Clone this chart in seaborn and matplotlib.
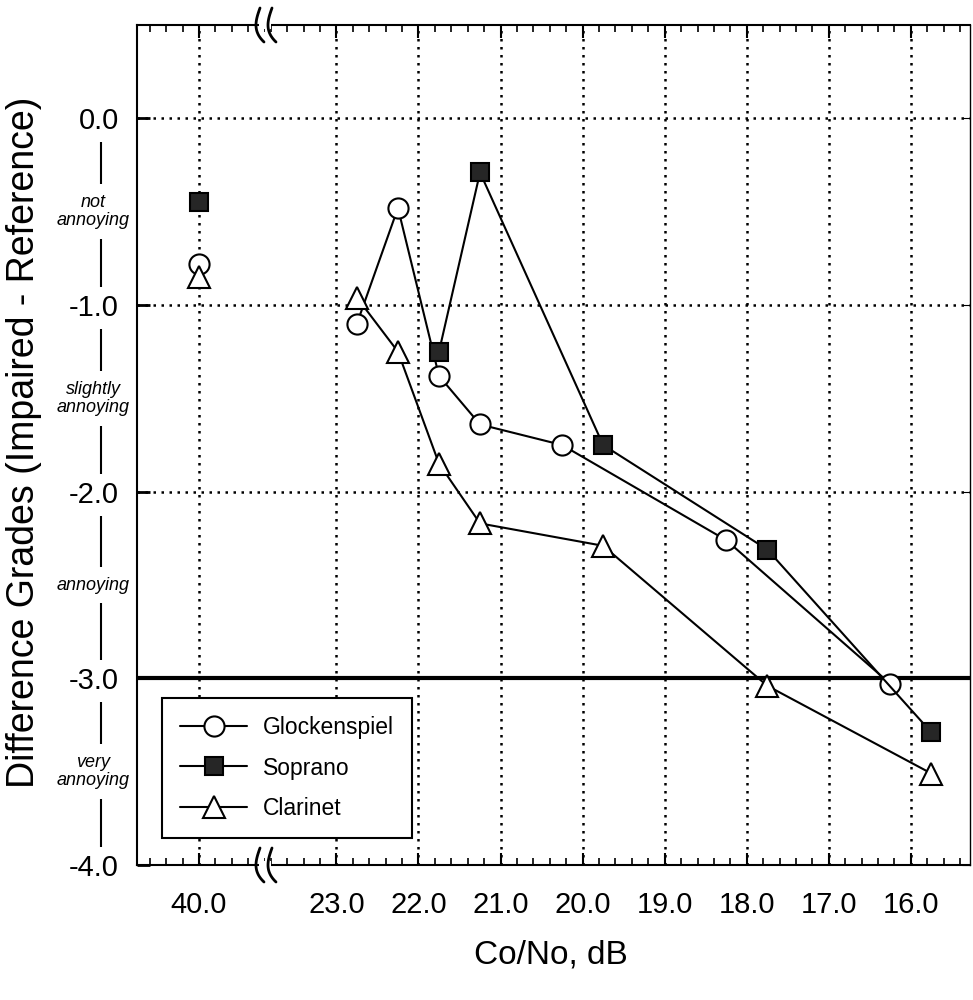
"""
Difference grades vs Co/No for three test items (broken x axis).
"""

import matplotlib

matplotlib.use("Agg")

import matplotlib.pyplot as plt
import numpy as np
import seaborn as sns
from matplotlib.lines import Line2D
from matplotlib.patches import Rectangle
from matplotlib.ticker import FixedLocator, FormatStrFormatter, MultipleLocator

# =============================================================================
# DATA
# =============================================================================

# clear channel reference point (left panel)
ref_cono = [40.0]
glock_ref = [-0.78]
soprano_ref = [-0.45]
clarinet_ref = [-0.85]

# impaired channel (right panel)
glock_cono = [22.75, 22.25, 21.75, 21.25, 20.25, 18.25, 16.25]
glock_grade = [-1.10, -0.48, -1.38, -1.64, -1.75, -2.26, -3.03]

soprano_cono = [21.75, 21.25, 19.75, 17.75, 15.75]
soprano_grade = [-1.25, -0.29, -1.75, -2.31, -3.29]

clarinet_cono = [22.75, 22.25, 21.75, 21.25, 19.75, 17.75, 15.75]
clarinet_grade = [-0.96, -1.25, -1.85, -2.17, -2.29, -3.04, -3.51]

y_ticks = [0.0, -1.0, -2.0, -3.0, -4.0]
grade_names = ["not\nannoying", "slightly\nannoying", "annoying", "very\nannoying"]
grade_pos = [-0.5, -1.5, -2.5, -3.5]
threshold = -3.0

# =============================================================================
# STYLE
# =============================================================================

sns.set_style("ticks")
plt.rcParams["font.family"] = ["Liberation Sans", "DejaVu Sans"]
for key in ("text.color", "axes.labelcolor", "xtick.color", "ytick.color", "axes.edgecolor"):
    plt.rcParams[key] = "black"

W, H = 973, 1000
fig = plt.figure(figsize=(W / 100, H / 100), dpi=100)


def fx(px):
    return px / W


def fy(py):
    return 1 - py / H


left_px, brk_px, right_px = 137, 265, 970
top_px, bot_px = 25, 865

ax1 = fig.add_axes([fx(left_px), fy(bot_px), fx(brk_px - left_px), (bot_px - top_px) / H])
ax2 = fig.add_axes([fx(brk_px), fy(bot_px), fx(right_px - brk_px), (bot_px - top_px) / H])

grid_kw = dict(color="black", linestyle=(0, (1, 2.2)), linewidth=1.8)
marker_kw = dict(markeredgecolor="black", markeredgewidth=1.5)

series = [
    ("Glockenspiel", glock_cono, glock_grade, glock_ref, "o", "white", 14.5),
    ("Soprano", soprano_cono, soprano_grade, soprano_ref, "s", "#262626", 13.5),
    ("Clarinet", clarinet_cono, clarinet_grade, clarinet_ref, "^", "white", 15.5),
]

# =============================================================================
# PLOT
# =============================================================================

for name, xs, ys, yref, mk, face, ms in series:
    sns.lineplot(
        x=xs, y=ys, ax=ax2, sort=False, color="black", linewidth=1.5,
        marker=mk, markersize=ms, markerfacecolor=face, label=name,
        zorder=4, **marker_kw,
    )
    sns.lineplot(
        x=ref_cono, y=yref, ax=ax1, sort=False, color="black", linewidth=0,
        marker=mk, markersize=ms, markerfacecolor=face, legend=False,
        zorder=4, **marker_kw,
    )

for ax in (ax1, ax2):
    ax.set_ylim(-4.0, 0.5)
    ax.yaxis.set_major_locator(FixedLocator(y_ticks))
    ax.yaxis.set_major_formatter(FormatStrFormatter("%.1f"))
    ax.grid(True, which="major", **grid_kw)
    ax.axhline(threshold, color="black", linewidth=3, zorder=3)
    ax.xaxis.set_major_formatter(FormatStrFormatter("%.1f"))
    ax.xaxis.set_minor_locator(MultipleLocator(0.2))
    ax.tick_params(axis="x", which="both", direction="in", top=True, labelsize=21, pad=19)
    ax.tick_params(axis="x", which="major", length=9, width=1.5)
    ax.tick_params(axis="x", which="minor", length=5, width=1.2)
    ax.set_xlabel("")
    ax.set_ylabel("")
    for side in ("top", "bottom", "left", "right"):
        ax.spines[side].set_linewidth(1.5)

ax1.set_xlim(40.755, 39.196)
ax1.xaxis.set_major_locator(FixedLocator(ref_cono))
ax1.spines["right"].set_visible(False)
ax1.tick_params(axis="y", direction="in", length=9, width=2, labelsize=21, pad=13)

ax2.set_xlim(23.87, 15.28)
ax2.xaxis.set_major_locator(MultipleLocator(1))
ax2.spines["left"].set_visible(False)
ax2.spines["right"].set_linewidth(1.0)
ax2.tick_params(axis="y", direction="in", left=False, right=True, labelleft=False, length=6)

# grade words along the y axis
for lbl in ax1.get_yticklabels():
    lbl.set_bbox(dict(facecolor="white", edgecolor="none", pad=5))

yax = ax1.get_yaxis_transform()
line_x = (101 - left_px) / (brk_px - left_px)
text_x = (93 - left_px) / (brk_px - left_px)
ax1.add_line(Line2D([line_x, line_x], [y_ticks[0], y_ticks[-1]], transform=yax,
                    color="black", linewidth=1.5, clip_on=False, zorder=0.5))
for name, pos in zip(grade_names, grade_pos):
    ax1.text(text_x, pos, name, transform=yax, ha="center", va="center",
             fontsize=13, style="italic", linespacing=1.1, clip_on=False,
             bbox=dict(facecolor="white", edgecolor="none", pad=7), zorder=2)

# legend spanning both panels
handles, labels = ax2.get_legend_handles_labels()
ax2.get_legend().remove()
leg = fig.legend(
    handles, labels, loc="upper left", bbox_to_anchor=(fx(162), fy(698)),
    frameon=True, fancybox=False, framealpha=1, edgecolor="black",
    fontsize=16.5, handlelength=2.9, handletextpad=0.7, borderpad=0.8,
    labelspacing=0.75, borderaxespad=0,
)
leg.get_frame().set_linewidth(1.5)

# axis break marks
t = np.linspace(-1, 1, 30)
for cy in (top_px, bot_px):
    fig.add_artist(Rectangle((fx(259), fy(cy + 4)), fx(12), 8 / H, transform=fig.transFigure,
                             facecolor="white", edgecolor="none", zorder=5))
    for cx in (259, 271):
        xs = cx + 6 * t ** 2 - 3 + 2 * t ** 3
        ys = cy + 17 * t
        fig.add_artist(Line2D(fx(xs), fy(ys), transform=fig.transFigure,
                              color="black", linewidth=2, zorder=6))

fig.text(fx(551), fy(955), "Co/No, dB", ha="center", va="center", fontsize=24)
fig.text(fx(24), fy(442), "Difference Grades (Impaired - Reference)", rotation=90,
         ha="center", va="center", fontsize=27)

fig.savefig("out.png", dpi=100)
